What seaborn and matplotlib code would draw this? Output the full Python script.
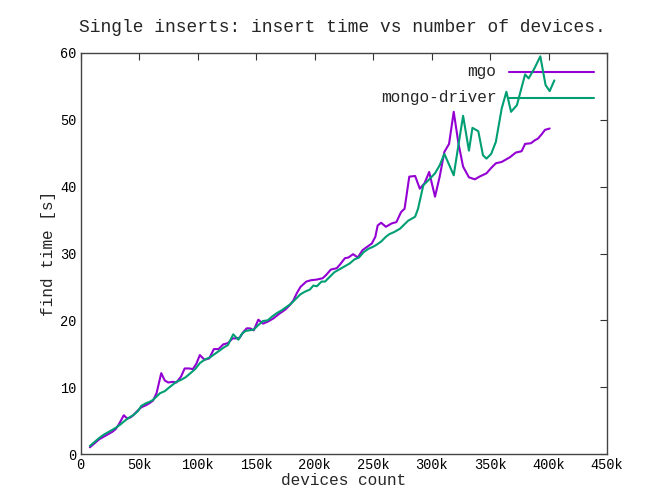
import matplotlib
matplotlib.use("Agg")
import matplotlib.pyplot as plt
import seaborn as sns
import pandas as pd
from matplotlib.ticker import FuncFormatter

# ---- data (x in thousands of devices, y in seconds) ----
mgo_x = [8, 12, 16, 20, 24, 27, 30, 33, 37, 40, 43, 45, 49, 52, 56, 59, 62, 65, 69, 72,
         75, 79, 82, 86, 89, 93, 96, 99, 102, 106, 110, 114, 118, 122, 126, 130, 133, 136,
         139, 142, 145, 148, 152, 156, 160, 165, 170, 175, 179, 182, 185, 188, 193, 197,
         202, 207, 210, 214, 219, 222, 226, 229, 233, 237, 241, 245, 249, 252, 254, 257,
         261, 266, 270, 274, 277, 281, 286, 290, 294, 298, 303, 307, 311, 315, 319, 323,
         327, 332, 337, 341, 347, 351, 355, 360, 363, 367, 372, 377, 380, 385, 388, 391,
         394, 397, 401]
mgo_y = [1.0, 1.6, 2.2, 2.6, 3.0, 3.3, 3.7, 4.5, 5.8, 5.3, 5.5, 5.8, 6.5, 7.0, 7.3, 7.6,
         8.0, 9.1, 12.1, 11.0, 10.7, 10.8, 10.7, 11.6, 12.8, 12.8, 12.7, 13.5, 14.8, 14.1,
         14.3, 15.7, 15.7, 16.4, 16.6, 17.3, 17.3, 17.4, 18.2, 18.8, 18.8, 18.5, 20.1, 19.5,
         19.8, 20.3, 21.0, 21.6, 22.3, 23.0, 24.1, 25.0, 25.8, 26.0, 26.1, 26.3, 26.8, 27.6,
         27.8, 28.4, 29.3, 29.4, 29.9, 29.4, 30.5, 31.0, 31.5, 32.5, 34.2, 34.6, 34.0, 34.5,
         34.7, 36.2, 36.7, 41.5, 41.6, 39.7, 40.5, 42.2, 38.5, 41.5, 45.2, 46.4, 51.2, 46.5,
         43.0, 41.4, 41.1, 41.5, 42.0, 42.8, 43.5, 43.7, 44.0, 44.4, 45.1, 45.3, 46.4, 46.5,
         46.9, 47.2, 47.8, 48.5, 48.7]

drv_x = [8, 12, 16, 20, 24, 27, 30, 34, 38, 42, 45, 49, 52, 56, 59, 62, 65, 68, 72, 74,
         79, 82, 86, 90, 94, 98, 102, 106, 111, 115, 119, 123, 126, 130.5, 135, 138, 141,
         144, 148, 152, 156, 160, 164, 168, 172, 176, 180, 184, 188, 192, 196, 199, 202,
         206, 209, 213, 217, 221, 225, 230, 234, 238, 242, 246, 250, 253, 257, 261, 264,
         268, 273, 280, 286, 288.5, 293, 297, 303, 307, 311, 319, 323, 327, 332, 335, 340,
         344, 347, 351, 355, 360, 364, 368, 373, 380, 383, 388, 393, 397.5, 401, 405]
drv_y = [1.2, 1.8, 2.4, 2.9, 3.3, 3.6, 3.9, 4.4, 5.0, 5.5, 5.8, 6.4, 7.2, 7.6, 7.8, 8.1,
         8.6, 9.1, 9.4, 9.7, 10.4, 10.8, 11.1, 11.5, 12.1, 12.7, 13.6, 14.1, 14.5, 15.0,
         15.5, 16.0, 16.3, 17.9, 17.1, 18.0, 18.4, 18.5, 18.6, 19.3, 19.9, 20.0, 20.6, 21.1,
         21.5, 22.0, 22.5, 23.2, 23.9, 24.3, 24.6, 25.2, 25.1, 25.8, 25.8, 26.5, 27.2, 27.6,
         28.0, 28.5, 29.1, 29.4, 30.2, 30.7, 31.0, 31.3, 31.8, 32.5, 32.9, 33.2, 33.7, 34.9,
         35.5, 36.7, 40.2, 40.9, 42.0, 43.2, 44.9, 41.7, 46.2, 50.6, 45.4, 48.8, 48.3, 44.7,
         44.2, 44.9, 46.7, 51.7, 54.2, 51.2, 52.2, 56.8, 56.2, 57.7, 59.5, 55.2, 54.3, 55.9]

series_names = ["mgo", "mongo-driver"]
series_colors = ["#9400D3", "#009E73"]
x_ticks = [0, 50, 100, 150, 200, 250, 300, 350, 400, 450]
y_ticks = [0, 10, 20, 30, 40, 50, 60]

df = pd.concat([
    pd.DataFrame({"x": mgo_x, "y": mgo_y, "s": series_names[0]}),
    pd.DataFrame({"x": drv_x, "y": drv_y, "s": series_names[1]}),
])

sns.set_style("white")
FONT = ["Liberation Mono", "DejaVu Sans Mono"]
plt.rcParams["font.family"] = FONT

fig = plt.figure(figsize=(6.69, 4.95), dpi=100)
ax = fig.add_axes([80.5 / 669, 1 - 454 / 495, 526.5 / 669, 401 / 495])

sns.lineplot(data=df, x="x", y="y", hue="s", palette=series_colors,
             estimator=None, sort=False, lw=1.5, ax=ax, legend=False)

ax.set_xlim(0, 450)
ax.set_ylim(0, 60)
ax.set_xticks(x_ticks)
ax.set_yticks(y_ticks)
ax.xaxis.set_major_formatter(FuncFormatter(lambda v, p: "0" if v == 0 else f"{int(v)}k"))
ax.tick_params(direction="in", length=5, width=0.8, color="#333333",
               top=True, right=True, labelsize=9.8, pad=3, labelcolor="black")
for sp in ax.spines.values():
    sp.set_color("#444444")
    sp.set_linewidth(1.0)

ax.set_xlabel("devices count", fontsize=11.6, labelpad=0.5)
ax.set_ylabel("find time [s]", fontsize=11.6, labelpad=3)
fig.text(0.5 + 8 / 669, 1 - 28 / 495, "Single inserts: insert time vs number of devices.",
         ha="center", va="center", fontsize=12.9)

# gnuplot-style key (top right, text right-aligned left of sample line)
key_y = [0.953, 0.889]
for name, col, yy in zip(series_names, series_colors, key_y):
    ax.text(0.790, yy, name, transform=ax.transAxes, ha="right", va="center", fontsize=11.6)
    ax.plot([0.814, 0.975], [yy, yy], transform=ax.transAxes, color=col, lw=1.5, zorder=1)

fig.savefig("out.png", dpi=100)
